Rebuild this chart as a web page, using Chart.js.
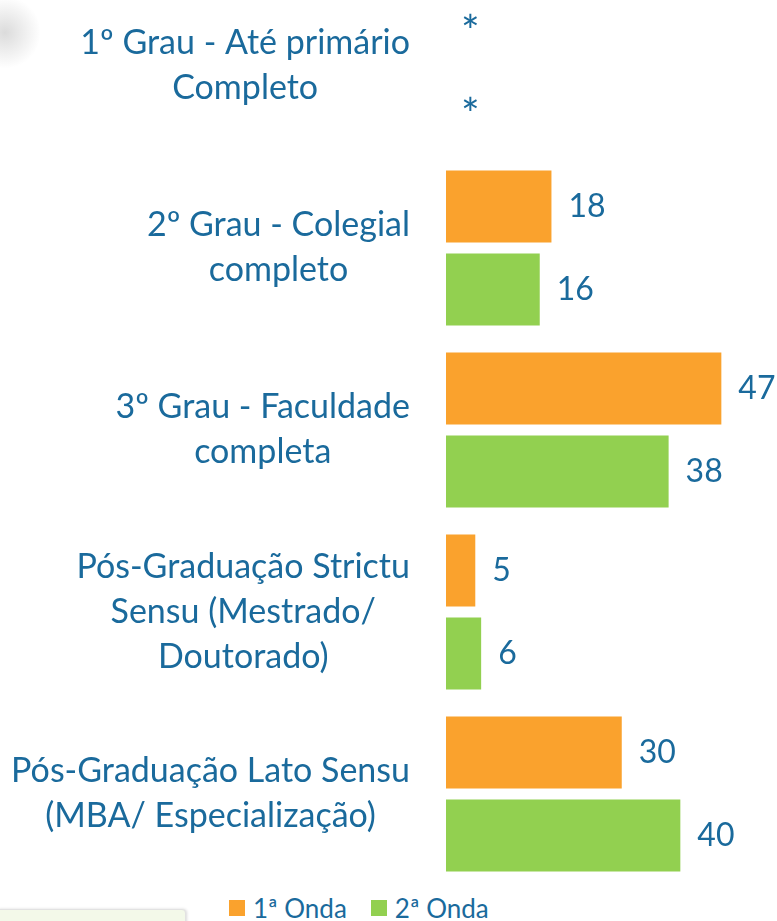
<!DOCTYPE html>
<html>
<head>
<meta charset="utf-8">
<script src="https://cdn.jsdelivr.net/npm/chart.js@4"></script>
<style>
  html, body { margin: 0; padding: 0; background: #fff; overflow: hidden; }
  body { width: 777px; height: 921px; position: relative; font-family: Lato, sans-serif; }
  #wrap { position: absolute; left: 0; top: -25px; width: 777px; height: 910px; }
  #legend { position: absolute; top: 892px; left: 229px; display: flex; align-items: center; color: #1a6a9c; font-size: 26px; }
  #legend span.box { display: inline-block; width: 16px; height: 16px; margin-right: 8px; }
  #legend span.item { display: flex; align-items: center; margin-right: 24px; }
  #blob { position: absolute; left: -30px; top: -5px; width: 70px; height: 75px; border-radius: 50%;
          background: radial-gradient(circle, rgba(190,190,190,0.55), rgba(255,255,255,0) 70%); }
  #note { position: absolute; left: -4px; top: 909px; width: 188px; height: 30px; border: 1px solid #e2e2e2;
          border-radius: 4px; background: #f3f9e9; box-shadow: 1px 0 3px rgba(0,0,0,0.15); }
</style>
</head>
<body>
<div id="blob"></div>
<div id="wrap"><canvas id="myChart"></canvas></div>
<div id="legend"></div>
<div id="note"></div>
<script>
  const categories = [
    ['1º Grau - Até primário', 'Completo'],
    ['2º Grau - Colegial', 'completo'],
    ['3º Grau - Faculdade', 'completa'],
    ['Pós-Graduação Strictu', 'Sensu (Mestrado/', 'Doutorado)'],
    ['Pós-Graduação Lato Sensu', '(MBA/ Especialização)']
  ];
  const onda1 = [null, 18, 47, 5, 30];
  const onda2 = [null, 16, 38, 6, 40];
  const seriesNames = ['1ª Onda', '2ª Onda'];
  const colors = ['#FAA22D', '#92D050'];
  const textColor = '#1a6a9c';

  const labelPlugin = {
    id: 'labels',
    afterDatasetsDraw(chart) {
      const ctx = chart.ctx;
      const yScale = chart.scales.y;
      const xScale = chart.scales.x;
      ctx.save();
      ctx.fillStyle = textColor;
      ctx.textBaseline = 'middle';

      // value labels ("*" where there is no value)
      ctx.textAlign = 'left';
      chart.data.datasets.forEach((ds, i) => {
        chart.getDatasetMeta(i).data.forEach((bar, j) => {
          const v = ds.data[j];
          if (v == null) {
            ctx.font = '44px Lato';
            ctx.fillText('*', xScale.getPixelForValue(0) + 15, bar.y + 8);
          } else {
            ctx.font = '32px Lato';
            ctx.fillText(v, bar.x + 17, bar.y);
          }
        });
      });

      // category labels: block right aligned, lines centred
      ctx.font = '34px Lato';
      ctx.textAlign = 'center';
      categories.forEach((lines, j) => {
        const cy = yScale.getPixelForValue(j);
        const w = Math.max(...lines.map(l => ctx.measureText(l).width));
        lines.forEach((l, k) => {
          ctx.fillText(l, 410 - w / 2, cy + (k - (lines.length - 1) / 2) * 45);
        });
      });
      ctx.restore();
    }
  };

  const ctx = document.getElementById('myChart');
  new Chart(ctx, {
    type: 'bar',
    data: {
      labels: categories,
      datasets: [{
        label: seriesNames[0],
        data: onda1,
        backgroundColor: colors[0],
        categoryPercentage: .912,
        barPercentage: .867
      }, {
        label: seriesNames[1],
        data: onda2,
        backgroundColor: colors[1],
        categoryPercentage: .912,
        barPercentage: .867
      }]
    },
    options: {
      indexAxis: 'y',
      responsive: true,
      maintainAspectRatio: false,
      animation: false,
      layout: {
        padding: { left: 446, right: 0, top: 0, bottom: 0 }
      },
      scales: {
        x: { display: false, min: 0, max: 56.5 },
        y: { display: false }
      },
      plugins: {
        legend: { display: false },
        tooltip: { enabled: false }
      }
    },
    plugins: [labelPlugin]
  });

  // legend
  const legend = document.getElementById('legend');
  seriesNames.forEach((name, i) => {
    const item = document.createElement('span');
    item.className = 'item';
    item.innerHTML = '<span class="box" style="background:' + colors[i] + '"></span>' + name;
    legend.appendChild(item);
  });
</script>
</body>
</html>
